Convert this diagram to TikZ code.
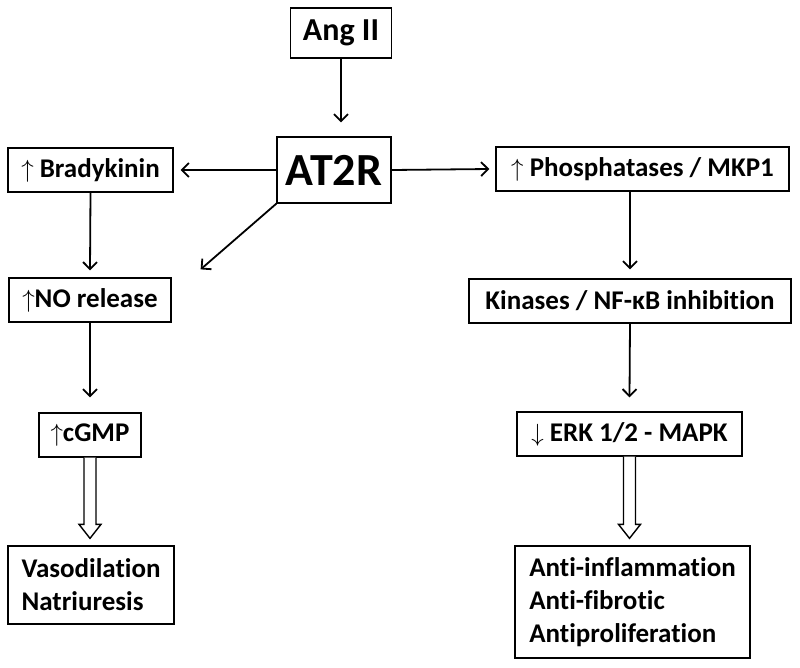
\documentclass[tikz,border=0pt]{standalone}
\usepackage{fontspec}
\setmainfont{Carlito}[Ligatures=NoCommon]
\usetikzlibrary{arrows.meta,calc}
\tikzset{>={Straight Barb[length=7pt,width=14pt]}}
\tikzset{box/.style={draw, line width=1.3pt, inner sep=0pt, font=\fontsize{27}{33}\selectfont\bfseries},
  link/.style={->, line width=1.8pt}}
% open block arrow between two nodes
\newcommand{\hollowarrow}[2]{%
  \draw[line width=1.4pt, fill=white] ($(#1.south)+(-6,0)$) -- ($(#1.south |- #2.north)+(-6,-21)$) -- ++(-5,0)
    -- ($(#1.south |- #2.north)+(0,-7)$) -- ($(#1.south |- #2.north)+(11,-21)$) -- ++(-5,0) -- ($(#1.south)+(6,0)$);}

\begin{document}
\begin{tikzpicture}[x=1pt,y=-1pt]
\useasboundingbox (0,0) rectangle (800,667);
\node[box, minimum width=101, minimum height=50, font=\fontsize{32}{36}\selectfont\bfseries] (ang) at (341,33) {Ang II};
\node[box, minimum width=114, minimum height=66, font=\fontsize{46}{52}\selectfont\bfseries] (at2r) at (334,170) {AT2R};
\node[box, minimum width=165, minimum height=44] (brady) at (90.5,170) {$\uparrow$ Bradykinin};
\node[box, minimum width=293, minimum height=44] (phos) at (642.5,169) {$\uparrow$ Phosphatases / MKP1};
\node[box, minimum width=162, minimum height=44] (no) at (90,300) {$\uparrow$NO release};
\node[box, minimum width=322, minimum height=44] (kin) at (630,301) {Kinases / NF-κB inhibition};
\node[box, minimum width=102, minimum height=44] (cgmp) at (90,435) {$\uparrow$cGMP};
\node[box, minimum width=225, minimum height=44] (erk) at (629.5,434) {$\downarrow$ ERK 1/2 - MAPK};
\node[box, minimum width=166, minimum height=78, align=left] (vaso) at (91,585) {Vasodilation\\Natriuresis};
\node[box, minimum width=235, minimum height=112, align=left] (anti) at (632.5,602) {Anti-inflammation\\Anti-fibrotic\\Antiproliferation};
\coordinate (notip) at ($(no.north east)+(29,-8)$);
%%%%%%%%%%
\draw[link] (ang.south) -- ($(ang.south |- at2r.north)+(0,-14)$);
\draw[link] (at2r.west) -- ($(brady.east)+(7,0)$);
\draw[link] (at2r.east) -- ($(phos.west)+(-6,0)$);
\draw[link] (at2r.south west) -- (notip);
\draw[link] (brady.south) -- ($(no.north)+(0,-7)$);
\draw[link] (no.south) -- ($(cgmp.north)+(0,-15)$);
\draw[link] (kin.north |- phos.south) -- ($(kin.north)+(0,-9)$);
\draw[link] (kin.south) -- ($(erk.north)+(0,-14)$);
%%%%%%%%%%
\hollowarrow{cgmp}{vaso}
\hollowarrow{erk}{anti}
\end{tikzpicture}
\end{document}
